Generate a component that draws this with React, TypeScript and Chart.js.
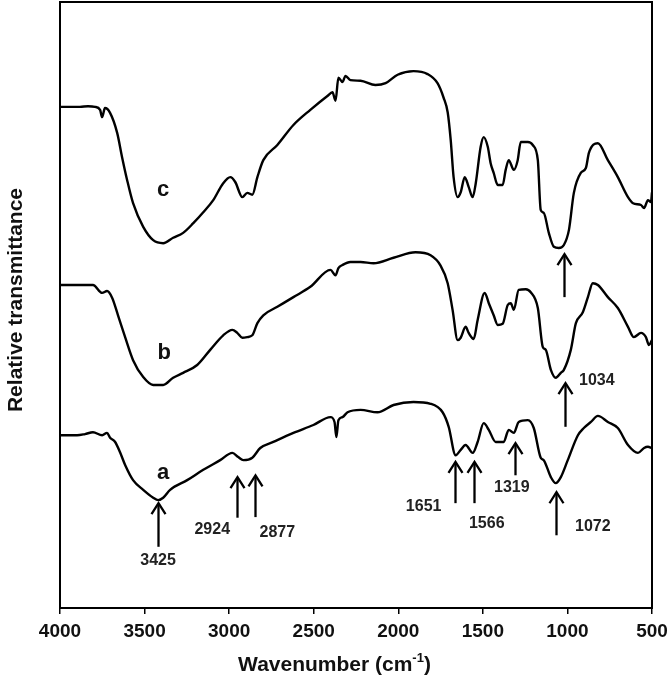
import React, { useEffect, useRef } from "react";
import { Chart, registerables } from "chart.js";

Chart.register(...registerables);

// Wavenumbers (cm-1) and relative transmittance (a.u.) for each spectrum
const wnA = [4000, 3899, 3852, 3805, 3751, 3722, 3704, 3674, 3645, 3615, 3568, 3508, 3449, 3420, 3390, 3349, 3248, 3153, 3053, 2981, 2946, 2916, 2863, 2816, 2739, 2620, 2502, 2401, 2377, 2366, 2354, 2330, 2300, 2223, 2123, 2028, 1910, 1809, 1738, 1702, 1661, 1631, 1602, 1560, 1531, 1495, 1465, 1424, 1377, 1347, 1317, 1288, 1234, 1199, 1158, 1140, 1098, 1069, 1039, 998, 938, 903, 861, 820, 761, 702, 642, 583, 547, 524, 500];
const tA = [28.5, 28.5, 28.7, 29.0, 28.5, 28.9, 28.1, 27.4, 25.7, 23.6, 21.1, 19.5, 18.2, 17.8, 18.2, 19.5, 21.1, 22.8, 24.4, 25.6, 24.9, 24.4, 24.8, 26.4, 27.4, 28.9, 30.2, 31.5, 30.7, 28.2, 31.0, 31.5, 32.3, 32.7, 32.3, 33.5, 34.0, 33.7, 32.3, 29.9, 25.2, 26.1, 26.9, 25.6, 27.4, 30.5, 29.4, 27.4, 27.4, 29.4, 28.9, 30.7, 31.0, 29.7, 24.8, 24.4, 21.6, 20.6, 21.6, 24.4, 28.5, 29.7, 30.7, 31.7, 30.7, 29.7, 26.9, 25.6, 26.4, 26.6, 26.4];

const wnB = [4000, 3882, 3805, 3751, 3722, 3692, 3657, 3615, 3568, 3508, 3449, 3390, 3331, 3272, 3189, 3112, 3035, 2981, 2952, 2922, 2893, 2863, 2833, 2798, 2715, 2620, 2520, 2401, 2371, 2354, 2330, 2283, 2223, 2146, 2028, 1898, 1809, 1750, 1708, 1679, 1649, 1631, 1602, 1584, 1554, 1531, 1489, 1465, 1436, 1412, 1383, 1353, 1335, 1317, 1288, 1246, 1217, 1175, 1146, 1128, 1098, 1069, 1039, 1021, 980, 950, 909, 879, 850, 820, 761, 702, 642, 607, 565, 536, 518, 500];
const tB = [53.3, 53.3, 53.3, 52.0, 52.3, 51.2, 48.3, 44.7, 40.9, 38.1, 36.8, 36.8, 38.0, 38.8, 40.1, 42.6, 45.0, 45.9, 45.4, 44.6, 44.7, 45.0, 47.0, 48.3, 49.7, 51.3, 53.0, 55.8, 54.9, 56.1, 56.6, 57.1, 57.1, 56.9, 57.8, 58.7, 58.2, 56.5, 53.6, 49.2, 44.2, 44.6, 46.4, 45.4, 44.4, 47.5, 52.0, 50.3, 48.3, 46.7, 46.9, 50.0, 50.3, 49.2, 52.5, 52.6, 52.1, 49.5, 43.1, 42.6, 39.3, 38.0, 38.8, 39.3, 42.6, 47.0, 48.8, 51.3, 53.6, 53.3, 51.3, 49.5, 46.4, 44.7, 45.4, 44.7, 43.4, 44.2];

const wnC = [4000, 3882, 3834, 3793, 3763, 3751, 3734, 3704, 3662, 3633, 3603, 3568, 3508, 3449, 3390, 3331, 3272, 3212, 3153, 3094, 3035, 2993, 2964, 2922, 2893, 2863, 2833, 2798, 2715, 2620, 2520, 2419, 2389, 2371, 2354, 2330, 2312, 2283, 2223, 2135, 2075, 2004, 1910, 1827, 1768, 1732, 1708, 1690, 1673, 1649, 1631, 1607, 1584, 1560, 1542, 1513, 1495, 1471, 1454, 1436, 1412, 1383, 1365, 1347, 1317, 1294, 1276, 1234, 1205, 1175, 1158, 1140, 1110, 1080, 1051, 1021, 991, 962, 921, 891, 873, 820, 761, 702, 642, 612, 565, 547, 524, 506, 500];
const tC = [82.7, 82.7, 82.8, 82.7, 82.2, 81.0, 82.5, 81.7, 78.4, 74.4, 70.6, 66.8, 62.9, 60.7, 60.2, 61.1, 61.9, 63.5, 65.3, 67.3, 70.1, 71.1, 70.3, 67.8, 68.5, 68.2, 71.1, 73.9, 76.4, 79.7, 82.2, 84.5, 85.1, 83.7, 87.5, 86.8, 87.8, 87.1, 87.0, 86.3, 86.6, 88.0, 88.6, 88.1, 86.6, 84.2, 81.8, 77.2, 71.1, 67.8, 68.6, 71.1, 69.5, 67.8, 70.1, 76.1, 77.7, 76.1, 73.4, 71.8, 69.8, 69.8, 72.3, 73.9, 72.3, 73.9, 76.9, 76.9, 76.4, 73.9, 65.7, 65.2, 61.9, 59.6, 59.4, 59.9, 62.4, 68.5, 71.8, 72.6, 75.1, 76.7, 73.9, 71.1, 67.8, 66.8, 66.5, 66.0, 67.3, 67.0, 68.6];

// x-axis ticks
const xTicks = [4000, 3500, 3000, 2500, 2000, 1500, 1000, 500];

// Curve letters
const curveNames = ["a", "b", "c"];
const curveLabelWn = [3390, 3384, 3390];
const curveLabelT = [22.3, 42.1, 69.0];

// Peak arrows (wavenumber, tip and tail in transmittance units)
const arrowWn = [3420, 2952, 2845, 1667, 1554, 1311, 1069, 1015, 1021];
const arrowTip = [17.3, 21.6, 21.9, 24.1, 24.1, 27.2, 19.1, 37.1, 58.4];
const arrowTail = [10.1, 14.9, 15.0, 17.3, 17.3, 21.9, 12.0, 29.9, 51.3];

// Peak labels
const peakLabels = ["3425", "2924", "2877", "1651", "1566", "1319", "1072", "1034"];
const peakLabelWn = [3420, 3100, 2715, 1850, 1477, 1329, 850, 826];
const peakLabelT = [7.8, 12.9, 12.4, 16.8, 13.9, 19.8, 13.4, 37.6];

const FONT = "Arial, 'Liberation Sans', sans-serif";

const toPoints = (xs: number[], ys: number[]) => xs.map((x, i) => ({ x, y: ys[i] }));

const decorPlugin = {
  id: "decor",
  afterDatasetsDraw(chart: any) {
    const { ctx, chartArea, scales, width } = chart;
    const xs = scales.x;
    const ys = scales.y;
    ctx.save();
    // frame
    ctx.strokeStyle = "#000";
    ctx.lineWidth = 2;
    ctx.strokeRect(chartArea.left, chartArea.top, chartArea.right - chartArea.left, chartArea.bottom - chartArea.top);

    // arrows
    ctx.lineWidth = 2.3;
    ctx.lineCap = "butt";
    for (let i = 0; i < arrowWn.length; i++) {
      const px = Math.round(xs.getPixelForValue(arrowWn[i])) + 0.5;
      const tip = ys.getPixelForValue(arrowTip[i]);
      const tail = ys.getPixelForValue(arrowTail[i]);
      ctx.beginPath();
      ctx.moveTo(px, tail);
      ctx.lineTo(px, tip + 1);
      ctx.stroke();
      ctx.beginPath();
      ctx.moveTo(px - 7, tip + 11);
      ctx.lineTo(px, tip);
      ctx.lineTo(px + 7, tip + 11);
      ctx.stroke();
    }

    // peak labels
    ctx.fillStyle = "#222";
    ctx.font = `bold 16px ${FONT}`;
    ctx.textAlign = "center";
    ctx.textBaseline = "middle";
    for (let i = 0; i < peakLabels.length; i++) {
      ctx.fillText(peakLabels[i], xs.getPixelForValue(peakLabelWn[i]), ys.getPixelForValue(peakLabelT[i]));
    }

    // curve letters
    ctx.fillStyle = "#111";
    ctx.font = `bold 22px ${FONT}`;
    for (let i = 0; i < curveNames.length; i++) {
      ctx.fillText(curveNames[i], xs.getPixelForValue(curveLabelWn[i]), ys.getPixelForValue(curveLabelT[i]));
    }

    // x title with superscript (centred on the figure)
    const cx = width / 2;
    const ty = 665;
    const main = "Wavenumber (cm";
    const sup = "-1";
    const close = ")";
    ctx.font = `bold 21px ${FONT}`;
    const wMain = ctx.measureText(main).width;
    const wClose = ctx.measureText(close).width;
    ctx.font = `bold 13px ${FONT}`;
    const wSup = ctx.measureText(sup).width;
    const total = wMain + wSup + wClose;
    let sx = cx - total / 2;
    ctx.textAlign = "left";
    ctx.fillStyle = "#111";
    ctx.font = `bold 21px ${FONT}`;
    ctx.fillText(main, sx, ty);
    sx += wMain;
    ctx.font = `bold 13px ${FONT}`;
    ctx.fillText(sup, sx, ty - 7);
    sx += wSup;
    ctx.font = `bold 21px ${FONT}`;
    ctx.fillText(close, sx, ty);

    // y title
    ctx.save();
    ctx.translate(16, 300);
    ctx.rotate(-Math.PI / 2);
    ctx.textAlign = "center";
    ctx.font = `bold 21px ${FONT}`;
    ctx.fillText("Relative transmittance", 0, 0);
    ctx.restore();

    ctx.restore();
  },
};

export default function App() {
  const ref = useRef<HTMLCanvasElement | null>(null);
  useEffect(() => {
    if (!ref.current) return;
    const lineStyle = {
      borderColor: "#000",
      borderWidth: 2.4,
      pointRadius: 0,
      fill: false,
      cubicInterpolationMode: "monotone" as const,
    };
    const chart = new Chart(ref.current, {
      type: "line",
      data: {
        datasets: [
          { label: "a", data: toPoints(wnA, tA), ...lineStyle },
          { label: "b", data: toPoints(wnB, tB), ...lineStyle },
          { label: "c", data: toPoints(wnC, tC), ...lineStyle },
        ],
      },
      options: {
        responsive: false,
        animation: false,
        layout: { padding: { left: 0, right: 17, top: 2, bottom: 0 } },
        plugins: { legend: { display: false }, tooltip: { enabled: false } },
        scales: {
          x: {
            type: "linear",
            min: 500,
            max: 4000,
            reverse: true,
            afterBuildTicks: (s: any) => {
              s.ticks = xTicks.map((v) => ({ value: v }));
            },
            afterFit: (s: any) => {
              s.height = 79;
              s.paddingLeft = 0;
              s.paddingRight = 0;
            },
            ticks: {
              color: "#111",
              font: { family: FONT, size: 19, weight: "bold" },
              padding: 6,
              maxRotation: 0,
              autoSkip: false,
              callback: (v: any) => String(v),
            },
            grid: { display: true, drawOnChartArea: false, drawTicks: true, tickLength: 6, color: "#000", lineWidth: 1.5 },
            border: { display: false },
          },
          y: {
            type: "linear",
            min: 0,
            max: 100,
            afterFit: (s: any) => {
              s.width = 60;
              s.paddingTop = 0;
              s.paddingBottom = 0;
            },
            ticks: { display: false },
            grid: { display: false },
            border: { display: false },
          },
        },
      },
      plugins: [decorPlugin],
    });
    return () => chart.destroy();
  }, []);
  return (
    <div style={{ position: "absolute", left: 0, top: 0, width: 669, height: 687, background: "#fff" }}>
      <canvas ref={ref} width={669} height={687} />
    </div>
  );
}
